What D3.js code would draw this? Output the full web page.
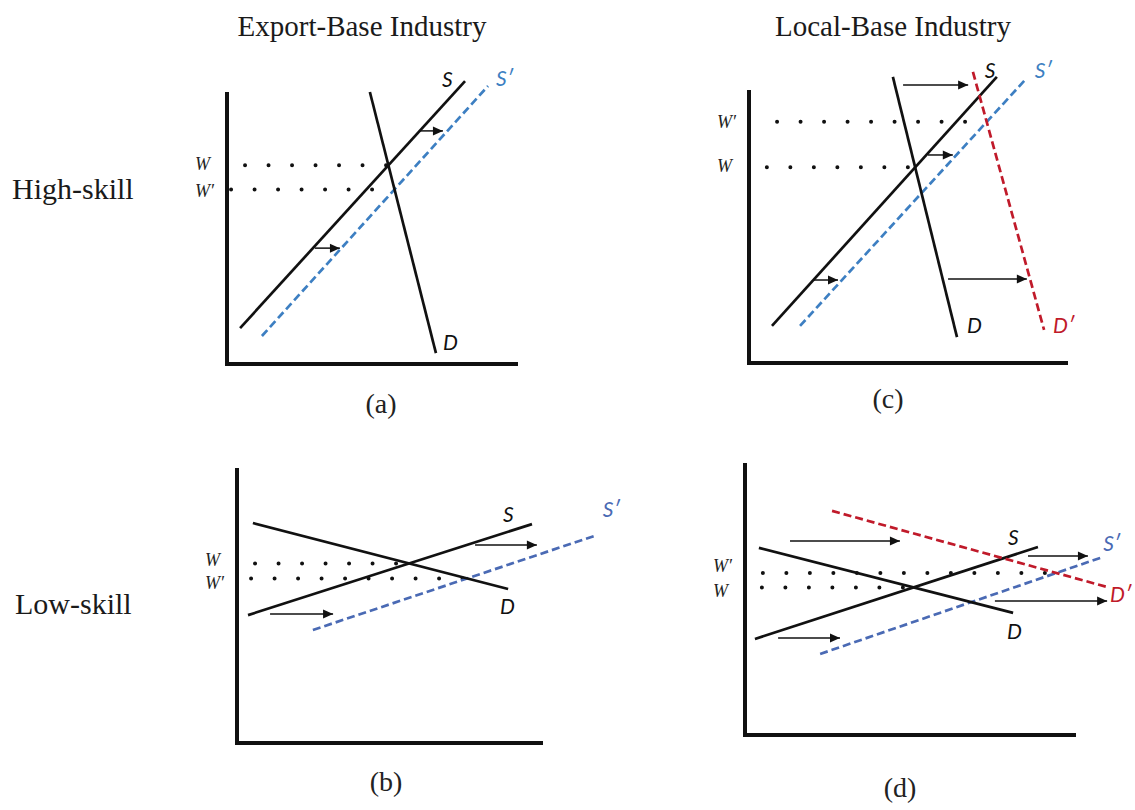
<!DOCTYPE html>
<html>
<head>
<meta charset="utf-8">
<script src="https://cdn.jsdelivr.net/npm/d3@7/dist/d3.min.js"></script>
<style>
  html, body { margin: 0; padding: 0; background: #fff; }
  svg { display: block; }
</style>
</head>
<body>
<script>
// ---- Text ----
const columnTitles = ["Export-Base Industry", "Local-Base Industry"];
const rowTitles = ["High-skill", "Low-skill"];
const panelLetters = ["(a)", "(b)", "(c)", "(d)"];

// ---- Curves: [x1, y1, x2, y2] in axis units (0–10 on each axis) ----
const supplyA      = [0.45, 1.32, 8.18, 10.40];
const supplyShiftA = [1.20, 1.03, 8.97, 10.22];
const demandA      = [4.91, 10.00, 7.18, 0.40];

const supplyB      = [0.36, 4.65, 9.64, 7.96];
const supplyShiftB = [2.48, 4.11, 11.76, 7.56];
const demandB      = [0.52, 8.00, 8.86, 5.60];

const supplyC      = [0.72, 1.36, 7.77, 10.48];
const supplyShiftC = [1.60, 1.36, 8.71, 10.44];
const demandC      = [4.51, 10.48, 6.52, 0.95];
const demandShiftC = [7.02, 10.66, 9.25, 1.21];

const supplyD      = [0.30, 3.53, 8.85, 6.91];
const supplyShiftD = [2.27, 2.98, 10.73, 6.51];
const demandD      = [0.42, 6.88, 8.10, 4.49];
const demandShiftD = [2.63, 8.24, 10.94, 5.44];

// ---- Shift arrows: [xFrom, xTo, y] ----
const arrowsA = [[6.63, 7.42, 8.57], [3.02, 3.88, 4.26]];
const arrowsB = [[7.78, 9.80, 7.20], [1.08, 3.14, 4.69]];
const arrowsC = [[4.83, 6.87, 10.18], [5.61, 6.39, 7.62], [2.01, 2.79, 3.04], [6.24, 8.71, 3.08]];
const arrowsD = [[1.36, 4.68, 7.13], [8.55, 10.36, 6.58], [7.55, 10.94, 4.93], [1.00, 2.87, 3.57]];

// ---- Wage levels: label, supply curve, demand curve, dotted-line start x ----
const wagesA = [["W", "S", "D", 0.62], ["W′", "S′", "D", 0.14]];
const wagesB = [["W", "S", "D", 0.59], ["W′", "S′", "D", 0.46]];
const wagesC = [["W′", "S′", "D′", 0.88], ["W", "S", "D", 0.56]];
const wagesD = [["W′", "S′", "D′", 0.54], ["W", "S", "D", 0.51]];

// ---- Styling / layout ----
const BLACK = "#111";
const BLUE_TOP = "#3d7fc2";
const BLUE_BOTTOM = "#4a6ab4";
const RED = "#c01a2a";
const SERIF = "'Liberation Serif', 'Times New Roman', serif";
const SANS_I = "Lato, 'Open Sans', sans-serif";

const W = 1135, H = 810;
const svg = d3.select("body").append("svg").attr("width", W).attr("height", H)
  .style("font-family", SERIF);

const defs = svg.append("defs");
defs.append("marker")
  .attr("id", "head").attr("viewBox", "0 0 10 10")
  .attr("refX", 10).attr("refY", 5)
  .attr("markerUnits", "userSpaceOnUse")
  .attr("markerWidth", 11).attr("markerHeight", 10)
  .attr("orient", "auto")
  .append("path").attr("d", "M0,0.5 L10,5 L0,9.5 Z").attr("fill", BLACK);

const panels = [
  { letter: panelLetters[0], box: [227, 518, 364, 92], letterPos: [381, 413],
    curves: [
      { name: "S",  pts: supplyA,      color: BLACK, dash: null, off: [-23, 6] },
      { name: "S′", pts: supplyShiftA, color: BLUE_TOP, dash: "8,4", off: [8, 0] },
      { name: "D",  pts: demandA,      color: BLACK, dash: null, off: [7, -3] }
    ],
    arrows: arrowsA, wages: wagesA, wageLabelDy: [5, 8] },
  { letter: panelLetters[1], box: [237, 543, 743, 468], letterPos: [386, 791],
    curves: [
      { name: "S",  pts: supplyB,      color: BLACK, dash: null, off: [-29, -2] },
      { name: "S′", pts: supplyShiftB, color: BLUE_BOTTOM, dash: "8,4", off: [6, -18] },
      { name: "D",  pts: demandB,      color: BLACK, dash: null, off: [-8, 25] }
    ],
    arrows: arrowsB, wages: wagesB, wageLabelDy: [3, 11] },
  { letter: panelLetters[2], box: [749, 1068, 363, 90], letterPos: [888, 408],
    curves: [
      { name: "S",  pts: supplyC,      color: BLACK, dash: null, off: [-12, 1] },
      { name: "S′", pts: supplyShiftC, color: BLUE_TOP, dash: "8,4", off: [8, 0] },
      { name: "D",  pts: demandC,      color: BLACK, dash: null, off: [10, -4] },
      { name: "D′", pts: demandShiftC, color: RED, dash: "8,4", off: [9, 3] }
    ],
    arrows: arrowsC, wages: wagesC, wageLabelDy: [6, 5] },
  { letter: panelLetters[3], box: [745, 1076, 735, 463], letterPos: [900, 797],
    curves: [
      { name: "S",  pts: supplyD,      color: BLACK, dash: null, off: [-30, -2] },
      { name: "S′", pts: supplyShiftD, color: BLUE_BOTTOM, dash: "8,4", off: [3, -7] },
      { name: "D",  pts: demandD,      color: BLACK, dash: null, off: [-6, 26] },
      { name: "D′", pts: demandShiftD, color: RED, dash: "8,4", off: [3, 15] }
    ],
    arrows: arrowsD, wages: wagesD, wageLabelDy: [-1, 10] }
];

// Intersection of two segments' supporting lines, in axis units
function intersect(p, q) {
  const [x1, y1, x2, y2] = p, [x3, y3, x4, y4] = q;
  const den = (x1 - x2) * (y3 - y4) - (y1 - y2) * (x3 - x4);
  const a = x1 * y2 - y1 * x2, b = x3 * y4 - y3 * x4;
  return [(a * (x3 - x4) - (x1 - x2) * b) / den, (a * (y3 - y4) - (y1 - y2) * b) / den];
}

panels.forEach(p => {
  const [x0, x1, y0, y1] = p.box;
  const x = d3.scaleLinear().domain([0, 10]).range([x0, x1]);
  const y = d3.scaleLinear().domain([0, 10]).range([y0, y1]);
  const g = svg.append("g");
  const byName = {};
  p.curves.forEach(c => byName[c.name] = c.pts);

  // Wage levels: dotted guides from the axis to the equilibrium
  p.wages.forEach((w, i) => {
    const [lab, sName, dName, xs] = w;
    const [ex, ey] = intersect(byName[sName], byName[dName]);
    g.append("line")
      .attr("x1", x(xs)).attr("x2", x(ex))
      .attr("y1", y(ey)).attr("y2", y(ey))
      .attr("stroke", BLACK).attr("stroke-width", 4)
      .attr("stroke-linecap", "round")
      .attr("stroke-dasharray", "0,23.5");
    g.append("text")
      .attr("x", x0 - 32).attr("y", y(ey) + p.wageLabelDy[i])
      .attr("font-family", SERIF).attr("font-style", "italic")
      .attr("font-size", 18).attr("fill", "#222")
      .text(lab);
  });

  // Supply and demand curves
  p.curves.forEach(c => {
    const [a, b, cc, d] = c.pts;
    g.append("line")
      .attr("x1", x(a)).attr("y1", y(b)).attr("x2", x(cc)).attr("y2", y(d))
      .attr("stroke", c.color)
      .attr("stroke-width", 2.7)
      .attr("stroke-dasharray", c.dash);
    g.append("text")
      .attr("x", x(cc) + c.off[0]).attr("y", y(d) + c.off[1])
      .attr("font-family", SANS_I).attr("font-style", "italic")
      .attr("font-size", 21).attr("fill", c.color)
      .text(c.name);
  });

  // Shift arrows
  p.arrows.forEach(a => {
    g.append("line")
      .attr("x1", x(a[0])).attr("x2", x(a[1]))
      .attr("y1", y(a[2])).attr("y2", y(a[2]))
      .attr("stroke", BLACK).attr("stroke-width", 1.5)
      .attr("marker-end", "url(#head)");
  });

  // Axes
  g.append("path")
    .attr("d", d3.line()([[x(0), y(10)], [x(0), y(0)], [x(10), y(0)]]))
    .attr("fill", "none").attr("stroke", BLACK).attr("stroke-width", 4)
    .attr("stroke-linejoin", "miter");

  // Panel letter
  g.append("text")
    .attr("x", p.letterPos[0]).attr("y", p.letterPos[1])
    .attr("text-anchor", "middle").attr("font-size", 28).attr("fill", "#222")
    .text(p.letter);
});

// Column and row headings
svg.selectAll("text.col").data(columnTitles).join("text")
  .attr("class", "col")
  .attr("x", (d, i) => [362, 893][i]).attr("y", 36)
  .attr("text-anchor", "middle").attr("font-size", 29).attr("fill", "#1a1a1a")
  .text(d => d);

svg.selectAll("text.row").data(rowTitles).join("text")
  .attr("class", "row")
  .attr("x", (d, i) => [12, 15][i]).attr("y", (d, i) => [199, 614][i])
  .attr("font-size", 30).attr("fill", "#1a1a1a")
  .text(d => d);
</script>
</body>
</html>
